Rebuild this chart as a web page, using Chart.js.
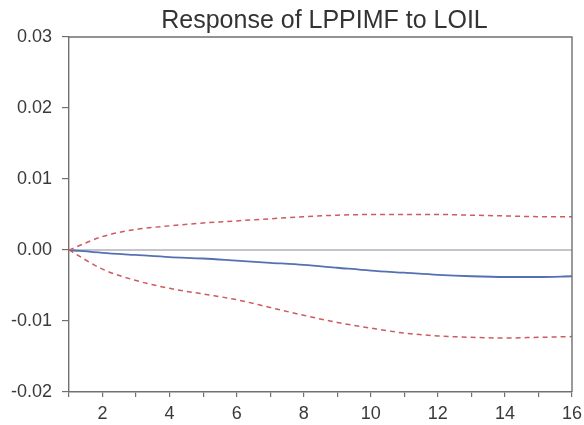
<!DOCTYPE html>
<html>
<head>
<meta charset="utf-8">
<script src="https://cdn.jsdelivr.net/npm/chart.js@4/dist/chart.umd.min.js"></script>
<style>
  html, body { margin: 0; padding: 0; background: #ffffff; }
  #wrap { width: 584px; height: 425px; }
</style>
</head>
<body>
<div id="wrap"><canvas id="c" width="584" height="425"></canvas></div>
<script>
// Impulse response of LPPIMF to a shock in LOIL, with +/- 2 S.E. bands
const periods = [1, 2, 3, 4, 5, 6, 7, 8, 9, 10, 11, 12, 13, 14, 15, 16];
const response = [0, -0.0004, -0.0007, -0.0010, -0.0012, -0.0015, -0.0018, -0.0021, -0.0025, -0.0029, -0.0032, -0.0035, -0.0037, -0.0038, -0.0038, -0.0037];
const upperBand = [0, 0.0019, 0.0029, 0.0034, 0.0038, 0.0041, 0.0044, 0.0047, 0.0049, 0.0050, 0.0050, 0.0050, 0.0049, 0.0048, 0.0047, 0.0047];
const lowerBand = [0, -0.0027, -0.0043, -0.0054, -0.0062, -0.0070, -0.0081, -0.0092, -0.0102, -0.0110, -0.0117, -0.0121, -0.0123, -0.0124, -0.0123, -0.0122];
const yTicks = [-0.02, -0.01, 0.00, 0.01, 0.02, 0.03];
const titleText = 'Response of LPPIMF to LOIL';

const FONT = '"Liberation Sans", Arial, sans-serif';
const toPoints = arr => arr.map((v, i) => ({ x: periods[i], y: v }));

// Frame, zero line and title
const framePlugin = {
  id: 'frame',
  beforeDatasetsDraw(chart) {
    const { ctx, chartArea: a, scales } = chart;
    const y0 = scales.y.getPixelForValue(0);
    ctx.save();
    ctx.strokeStyle = '#8a8a98';
    ctx.lineWidth = 1.2;
    ctx.beginPath();
    ctx.moveTo(a.left, y0);
    ctx.lineTo(a.right, y0);
    ctx.stroke();
    ctx.restore();
  },
  afterDraw(chart) {
    const { ctx, chartArea: a } = chart;
    ctx.save();
    ctx.strokeStyle = '#707070';
    ctx.lineWidth = 1.4;
    ctx.beginPath();
    ctx.moveTo(a.left, a.top);
    ctx.lineTo(a.right, a.top);
    ctx.lineTo(a.right, a.bottom);
    ctx.stroke();
    ctx.fillStyle = '#333333';
    ctx.font = '25px ' + FONT;
    ctx.textAlign = 'center';
    ctx.textBaseline = 'alphabetic';
    ctx.fillText(titleText, (a.left + a.right) / 2 + 4, 28);
    ctx.restore();
  }
};

new Chart(document.getElementById('c'), {
  type: 'line',
  data: {
    datasets: [
      {
        data: toPoints(upperBand),
        borderColor: '#cc5c5e',
        borderWidth: 1.5,
        borderDash: [5, 4],
        pointRadius: 0,
        cubicInterpolationMode: 'monotone',
        fill: false
      },
      {
        data: toPoints(lowerBand),
        borderColor: '#cc5c5e',
        borderWidth: 1.5,
        borderDash: [5, 4],
        pointRadius: 0,
        cubicInterpolationMode: 'monotone',
        fill: false
      },
      {
        data: toPoints(response),
        borderColor: '#5470b4',
        borderWidth: 1.8,
        pointRadius: 0,
        cubicInterpolationMode: 'monotone',
        fill: false
      }
    ]
  },
  options: {
    responsive: false,
    animation: false,
    layout: { padding: { left: 0, right: 12, top: 37, bottom: 0 } },
    plugins: {
      legend: { display: false },
      title: { display: false },
      tooltip: { enabled: false }
    },
    scales: {
      x: {
        type: 'linear',
        min: 1,
        max: 16,
        afterFit: s => { s.height = 33; s.paddingLeft = 0; s.paddingRight = 0; },
        afterBuildTicks: s => { s.ticks = periods.map(v => ({ value: v })); },
        border: { display: true, color: '#707070', width: 1.4 },
        grid: { drawOnChartArea: false, drawTicks: true, tickLength: 5, color: '#707070', lineWidth: 1.2 },
        ticks: {
          autoSkip: false,
          maxRotation: 0,
          padding: 6,
          color: '#3a3a3a',
          font: { family: FONT, size: 18 },
          callback: v => (v % 2 === 0 ? String(v) : '')
        }
      },
      y: {
        min: -0.02,
        max: 0.03,
        afterFit: s => { s.width = 69; s.paddingTop = 0; s.paddingBottom = 0; },
        afterBuildTicks: s => { s.ticks = yTicks.map(v => ({ value: v })); },
        border: { display: true, color: '#707070', width: 1.4 },
        grid: { drawOnChartArea: false, drawTicks: true, tickLength: 7, color: '#707070', lineWidth: 1.2 },
        ticks: {
          padding: 10,
          color: '#3a3a3a',
          font: { family: FONT, size: 18 },
          callback: v => v.toFixed(2)
        }
      }
    }
  },
  plugins: [framePlugin]
});
</script>
</body>
</html>
